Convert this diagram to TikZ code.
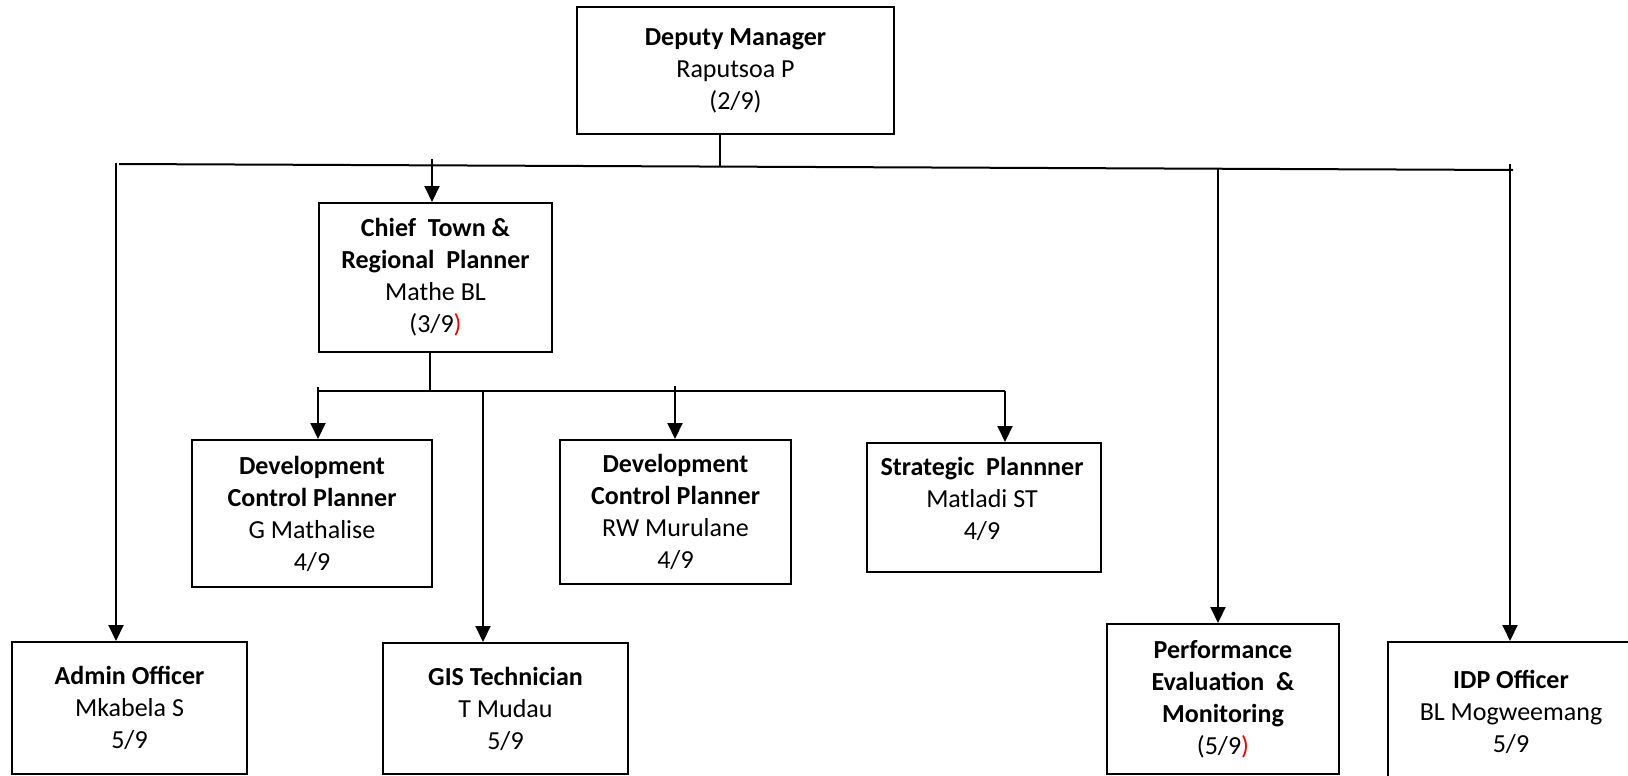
\documentclass[tikz,border=0pt]{standalone}
\usepackage{fontspec}
\setmainfont{Carlito}
\usetikzlibrary{arrows.meta,calc}

\tikzset{
  orgbox/.style={draw=black, line width=1pt, inner sep=0pt, align=center,
                 font=\fontsize{13}{16}\selectfont},
  orgtext/.style={inner sep=0pt, align=center, font=\fontsize{13}{16}\selectfont},
  link/.style={line width=1pt, draw=black},
  arr/.style={link, -{Triangle[length=8pt,width=7.5pt]}},
}

\begin{document}
\begin{tikzpicture}[x=0.5pt, y=-0.5pt]
  \useasboundingbox (0,0) rectangle (1628,776);
  \clip (0,0) rectangle (1628,776);

  % top level
  \node[orgbox, minimum width=158.5pt, minimum height=63.5pt] (dep) at (735.5,70.5)
    {\textbf{Deputy Manager}\\Raputsoa P\\(2/9)};

  % second level
  \node[orgbox, minimum width=116.5pt, minimum height=74.5pt] (chief) at (435.5,277.5)
    {\textbf{Chief\ \ Town \&}\\\textbf{Regional\ \ Planner}\\Mathe BL\\(3/9\textcolor{red}{)}};

  % planners under the chief planner
  \node[orgbox, minimum width=120pt, minimum height=73.5pt] (dev1) at (312,513.5)
    {\textbf{Development}\\\textbf{Control Planner}\\G Mathalise\\4/9};
  \node[orgbox, minimum width=115.5pt, minimum height=72pt] (dev2) at (675.5,512)
    {\textbf{Development}\\\textbf{Control Planner}\\RW Murulane\\4/9};
  \node[orgbox, minimum width=117pt, minimum height=64.5pt] (strat) at (984,507.5) {};
  \node[orgtext] (strat-t) at (982,499)
    {\textbf{Strategic\ \ Plannner}\\Matladi ST\\4/9};

  % bottom row
  \node[orgbox, minimum width=117.5pt, minimum height=66pt] (admin) at (129.5,708)
    {\textbf{Admin Officer}\\Mkabela S\\5/9};
  \node[orgbox, minimum width=122.5pt, minimum height=65.5pt] (gis) at (505.5,708.5)
    {\textbf{GIS Technician}\\T Mudau\\5/9};
  \node[orgbox, minimum width=116pt, minimum height=75pt] (perf) at (1223,699)
    {\textbf{Performance}\\\textbf{Evaluation\ \ \&}\\\textbf{Monitoring}\\(5/9\textcolor{red}{)}};
  \node[orgbox, minimum width=123pt, minimum height=70pt] (idp) at (1511,712)
    {\textbf{IDP\ Officer}\\BL Mogweemang\\5/9};

  % upper distribution line
  \coordinate (busL) at (119,164);
  \coordinate (busR) at (1513,170);
  \coordinate (j0) at (720,166.6);
  \draw[link] (busL) -- (busR);
  \draw[link] (dep.south -| j0) -- (j0);

  \coordinate (a0) at (116,163);
  \coordinate (c0) at (432,159);
  \coordinate (p0) at (1218,169);
  \coordinate (i0) at (1510,164);
  \draw[arr] (a0) -- (a0 |- admin.north);
  \draw[arr] (c0) -- (c0 |- chief.north);
  \draw[arr] (p0) -- (p0 |- perf.north);
  \draw[arr] (i0) -- (i0 |- idp.north);

  % lower distribution line
  \coordinate (h0) at (430,392);
  \coordinate (hL) at (317,391);
  \coordinate (hR) at (1005,391);
  \draw[link] (chief.south -| h0) -- (h0);
  \draw[link] (hL) -- (hR);

  \coordinate (d1) at (318,387);
  \coordinate (g0) at (483,390);
  \coordinate (d2) at (675,386);
  \draw[arr] (d1) -- (d1 |- dev1.north);
  \draw[arr] (g0) -- (g0 |- gis.north);
  \draw[arr] (d2) -- (d2 |- dev2.north);
  \draw[arr] (hR) -- (hR |- strat.north);
\end{tikzpicture}
\end{document}
